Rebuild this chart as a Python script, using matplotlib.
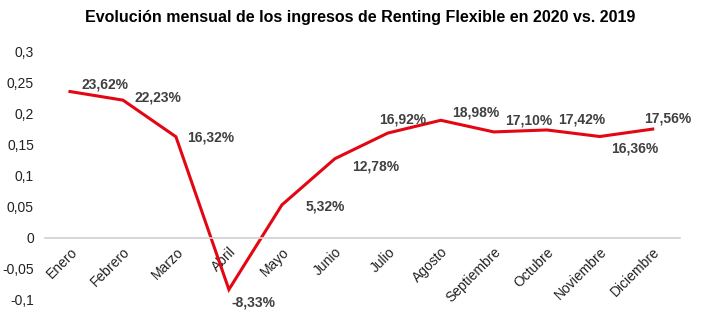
import matplotlib.pyplot as plt

plt.rcParams['font.family'] = ['Liberation Sans', 'DejaVu Sans']

# Variación mensual de ingresos 2020 vs 2019
meses = ['Enero', 'Febrero', 'Marzo', 'Abril', 'Mayo', 'Junio', 'Julio',
         'Agosto', 'Septiembre', 'Octubre', 'Noviembre', 'Diciembre']
variacion = [0.2362, 0.2223, 0.1632, -0.0833, 0.0532, 0.1278, 0.1692,
             0.1898, 0.1710, 0.1742, 0.1636, 0.1756]
yticks = [-0.1, -0.05, 0, 0.05, 0.1, 0.15, 0.2, 0.25, 0.3]

# desplazamiento de cada etiqueta respecto a su punto (px)
offsets = [(35, 7), (35, 3), (35, -1), (25, -13), (43, -2), (41, -8),
           (15, 14), (35, 8), (35, 11), (35, 10), (35, -12), (15, 11)]

fig = plt.figure(figsize=(7.27, 3.27), dpi=100)
ax = fig.add_axes([0.062, 0.083, 0.873, 0.758])

x = range(len(meses))
ax.plot(x, variacion, color='#e30613', lw=2.2, solid_joinstyle='miter')

for i, v in enumerate(variacion):
    etiqueta = f'{v * 100:.2f}%'.replace('.', ',')
    ax.annotate(etiqueta, (i, v), xytext=offsets[i], textcoords='offset pixels',
                ha='center', va='center', fontsize=10, fontweight='bold',
                color='#404040')

ax.set_xlim(-0.47, 11.51)
ax.set_ylim(-0.1, 0.3)
ax.set_yticks(yticks)
ax.set_yticklabels([f'{t:g}'.replace('.', ',') for t in yticks])
ax.set_xticks(list(x))
ax.set_xticklabels(meses)

for s in ['top', 'right', 'left']:
    ax.spines[s].set_visible(False)
ax.spines['bottom'].set_position(('data', 0))
ax.spines['bottom'].set_color('#d0d0d0')
ax.spines['bottom'].set_linewidth(1.2)
ax.tick_params(axis='both', length=0, labelsize=10, colors='#222222')
ax.tick_params(axis='x', pad=5)
ax.tick_params(axis='y', pad=8)

plt.setp(ax.get_xticklabels(), rotation=45, ha='right', va='top',
         rotation_mode='anchor')

fig.text(0.495, 0.945, 'Evolución mensual de los ingresos de Renting Flexible en 2020 vs. 2019',
         ha='center', va='center', fontsize=11.5, fontweight='bold')

fig.savefig('out.png', dpi=100)
